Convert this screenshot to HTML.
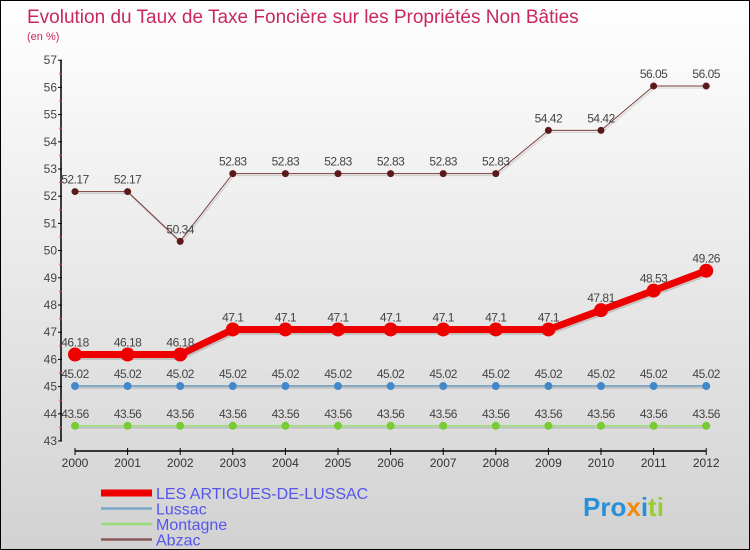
<!DOCTYPE html>
<html><head><meta charset="utf-8"><style>
body{margin:0}
#c{width:748px;height:548px;border:1px solid #000;position:relative;background:linear-gradient(#fff,#d2d2d2);font-family:"Liberation Sans",sans-serif;overflow:hidden}
svg{position:absolute;left:0;top:0}
</style></head><body>
<div id="c">
<svg id="s" width="748" height="548">
<text x="26" y="22" font-size="19" fill="#c8285a">Evolution du Taux de Taxe Foncière sur les Propriétés Non Bâties</text>
<text x="26" y="39" font-size="11" fill="#c8285a">(en %)</text>
<g id="g"></g>
</svg>
</div>
<script>
const years=[2000,2001,2002,2003,2004,2005,2006,2007,2008,2009,2010,2011,2012];
const artigues=[46.18,46.18,46.18,47.1,47.1,47.1,47.1,47.1,47.1,47.1,47.81,48.53,49.26];
const lussac=[45.02,45.02,45.02,45.02,45.02,45.02,45.02,45.02,45.02,45.02,45.02,45.02,45.02];
const montagne=[43.56,43.56,43.56,43.56,43.56,43.56,43.56,43.56,43.56,43.56,43.56,43.56,43.56];
const abzac=[52.17,52.17,50.34,52.83,52.83,52.83,52.83,52.83,52.83,54.42,54.42,56.05,56.05];
const yTicks=[43,44,45,46,47,48,49,50,51,52,53,54,55,56,57];
const NS="http://www.w3.org/2000/svg";
const g=document.getElementById('g');
const X=i=>74+i*52.6;
const Y=v=>440-(v-43)*27.2;
function mk(t,a,p){const e=document.createElementNS(NS,t);for(const k in a)e.setAttribute(k,a[k]);(p||g).appendChild(e);return e;}
// axes
let ya=mk('line',{x1:60,y1:Y(57),x2:60,y2:Y(43),stroke:'#000','stroke-width':1.5});


yTicks.forEach(v=>{
 let t=mk('line',{x1:57,x2:61,y1:Y(v),y2:Y(v),stroke:'#000'});
 
 
 if(v<57){let r=mk('line',{x1:58,x2:61,y1:Y(v+0.5),y2:Y(v+0.5),stroke:'#f33'});
 
 }
 let l=mk('text',{x:56,y:Y(v)+4,'font-size':12,fill:'#444','text-anchor':'end'});
 l.textContent=v;
 
 
});
let xa=mk('line',{x1:X(0),x2:X(12),y1:450,y2:450,stroke:'#000','stroke-width':1.5});


years.forEach((yr,i)=>{
 let t=mk('line',{x1:X(i),x2:X(i),y1:447,y2:454,stroke:'#000'});
 
 
 let l=mk('text',{x:X(i),y:466,'font-size':12,fill:'#333','text-anchor':'middle'});
 l.textContent=yr;
 
 
});
function series(arr,color,w,r,dot,name){
 const pts=arr.map((v,i)=>X(i)+','+Y(v)).join(' ');
 let sh=mk('polyline',{points:arr.map((v,i)=>(X(i)+1)+','+(Y(v)+2)).join(' '),fill:'none',stroke:'rgba(0,0,0,0.15)','stroke-width':w});
 
 
 let p=mk('polyline',{points:pts,fill:'none',stroke:color,'stroke-width':w,'stroke-linejoin':'round'});
 
 
 arr.forEach((v,i)=>{
  let c=mk('circle',{cx:X(i),cy:Y(v),r:r,fill:dot});
  
  
  let l=mk('text',{x:X(i),y:Y(v)-8,'font-size':12,fill:'#444','text-anchor':'middle','letter-spacing':'-0.5'});
  l.textContent=v;
  
  
 });
}
series(abzac,'#7a3a3a',1,3.5,'#5a1a1a','abzac');
series(montagne,'#99dd77',1.5,4,'#77cc33','montagne');
series(lussac,'#6699bb',1.5,4,'#4488cc','lussac');
series(artigues,'#ee0000',7,7,'#ee0000','artigues');
// legend
const leg=[['LES ARTIGUES-DE-LUSSAC','#ee0000',7],['Lussac','#7aa8cc',2.5],['Montagne','#99dd77',2.5],['Abzac','#8a5a5a',2.5]];
leg.forEach((d,i)=>{
 const y=492+i*15.5;
 let ln=mk('line',{x1:100,x2:151,y1:y,y2:y,stroke:d[1],'stroke-width':d[2]});
 
 
 let t=mk('text',{x:155,y:y+6,'font-size':16,fill:'#5555ee'});
 t.textContent=d[0];
 
 
});
let logo=mk('text',{x:582,y:515,'font-size':26,'font-weight':'bold',fill:'#3a8fd0'});
logo.innerHTML='<tspan fill="#2a8fd6">Pro</tspan><tspan fill="#f08a10">x</tspan><tspan fill="#2a8fd6">i</tspan><tspan fill="#9c3">ti</tspan>';


</script>
</body></html>
